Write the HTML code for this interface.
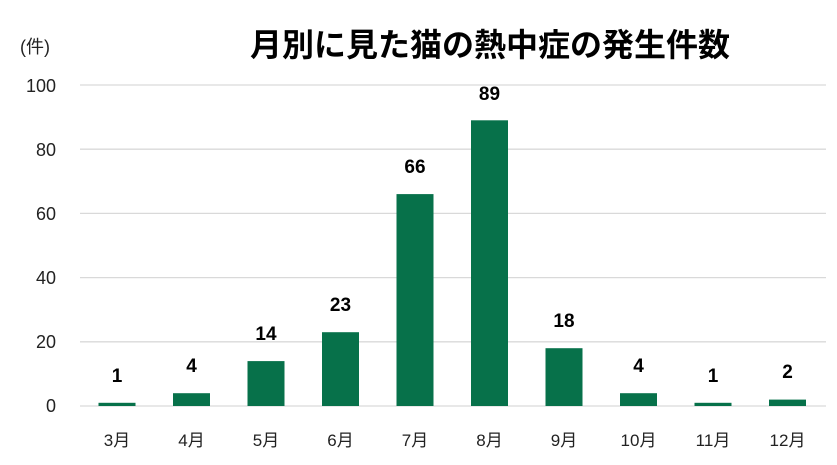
<!DOCTYPE html>
<html><head><meta charset="utf-8"><style>
body{margin:0;background:#fff}
svg{display:block}
text{font-family:"Liberation Sans","Noto Sans CJK JP",sans-serif}
</style></head><body>
<svg width="837" height="465" viewBox="0 0 837 465">
<rect width="837" height="465" fill="#fff"/>
<text x="490" y="56" text-anchor="middle" font-size="32" font-weight="bold" fill="#000">月別に見た猫の熱中症の発生件数</text>
<text x="20" y="53" font-size="18" fill="#222">(件)</text>
<g stroke="#d9d9d9" stroke-width="1.3">
<line x1="80" x2="826" y1="85" y2="85"/>
<line x1="80" x2="826" y1="149.2" y2="149.2"/>
<line x1="80" x2="826" y1="213.4" y2="213.4"/>
<line x1="80" x2="826" y1="277.6" y2="277.6"/>
<line x1="80" x2="826" y1="341.8" y2="341.8"/>
<line x1="80" x2="826" y1="406" y2="406"/>
</g>
<g font-size="18" fill="#222" text-anchor="end">
<text x="56" y="92">100</text>
<text x="56" y="156">80</text>
<text x="56" y="220">60</text>
<text x="56" y="284">40</text>
<text x="56" y="348">20</text>
<text x="56" y="412">0</text>
</g>
<g fill="#07714a">
<rect x="98.5" y="402.8" width="37" height="3.2"/>
<rect x="173" y="393.2" width="37" height="12.8"/>
<rect x="247.5" y="361.1" width="37" height="44.9"/>
<rect x="322" y="332.2" width="37" height="73.8"/>
<rect x="396.5" y="194.1" width="37" height="211.9"/>
<rect x="471" y="120.3" width="37" height="285.7"/>
<rect x="545.5" y="348.2" width="37" height="57.8"/>
<rect x="620" y="393.2" width="37" height="12.8"/>
<rect x="694.5" y="402.8" width="37" height="3.2"/>
<rect x="769" y="399.6" width="37" height="6.4"/>
</g>
<g font-size="19" font-weight="bold" fill="#000" text-anchor="middle">
<text x="117" y="382">1</text>
<text x="191.5" y="372">4</text>
<text x="266" y="340">14</text>
<text x="340.5" y="311">23</text>
<text x="415" y="173">66</text>
<text x="489.5" y="100">89</text>
<text x="564" y="327">18</text>
<text x="638.5" y="372">4</text>
<text x="713" y="382">1</text>
<text x="787.5" y="378">2</text>
</g>
<g font-size="17" fill="#222" text-anchor="middle">
<text x="117" y="446">3月</text>
<text x="191.5" y="446">4月</text>
<text x="266" y="446">5月</text>
<text x="340.5" y="446">6月</text>
<text x="415" y="446">7月</text>
<text x="489.5" y="446">8月</text>
<text x="564" y="446">9月</text>
<text x="638.5" y="446">10月</text>
<text x="713" y="446">11月</text>
<text x="787.5" y="446">12月</text>
</g>
</svg>
</body></html>
